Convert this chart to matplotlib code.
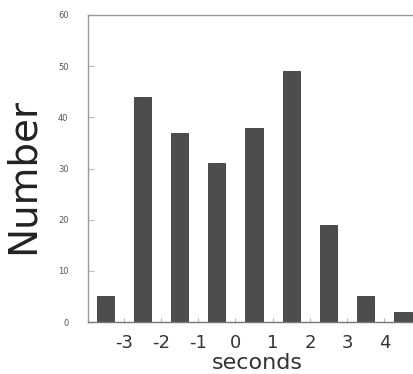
import matplotlib
matplotlib.use("Agg")
import matplotlib.pyplot as plt

bin_centers = [-3.5, -2.5, -1.5, -0.5, 0.5, 1.5, 2.5, 3.5, 4.5]
counts = [5, 44, 37, 31, 38, 49, 19, 5, 2]
x_ticks = [-3, -2, -1, 0, 1, 2, 3, 4]
y_ticks = [0, 10, 20, 30, 40, 50, 60]

fig = plt.figure(figsize=(4.13, 3.74), dpi=100)
ax = fig.add_axes([88/413, 1 - 322/374, (413 - 88)/413, (322 - 15)/374])

ax.bar(bin_centers, counts, width=0.46, color="#4d4d4d", edgecolor="#3a3a3a", linewidth=0.6)

ax.set_xlim(-3.96, 4.77)
ax.set_ylim(0, 60)
ax.set_xticks(x_ticks)
ax.set_xticklabels([str(v) for v in x_ticks])
ax.set_yticks(y_ticks)
ax.set_yticklabels([str(v) for v in y_ticks])

for s in ["top", "left", "bottom"]:
    ax.spines[s].set_color("#999999")
    ax.spines[s].set_linewidth(1.0)
ax.spines["bottom"].set_color("#777777")
ax.spines["right"].set_visible(False)

ax.tick_params(axis="y", direction="in", length=4, width=0.8, color="#bbbbbb",
               labelsize=6, labelcolor="#555555", pad=14)
ax.tick_params(axis="x", direction="in", length=3, width=0.8, color="#bbbbbb",
               labelsize=13, labelcolor="#333333", pad=9)

ax.set_ylabel("Number", fontsize=28, color="#222222")
ax.yaxis.set_label_coords(-0.142, 0.475)
ax.set_xlabel("seconds", fontsize=16, color="#333333")
ax.xaxis.set_label_coords((257 - 88) / 325, -0.10)

fig.savefig("out.png", dpi=100)
